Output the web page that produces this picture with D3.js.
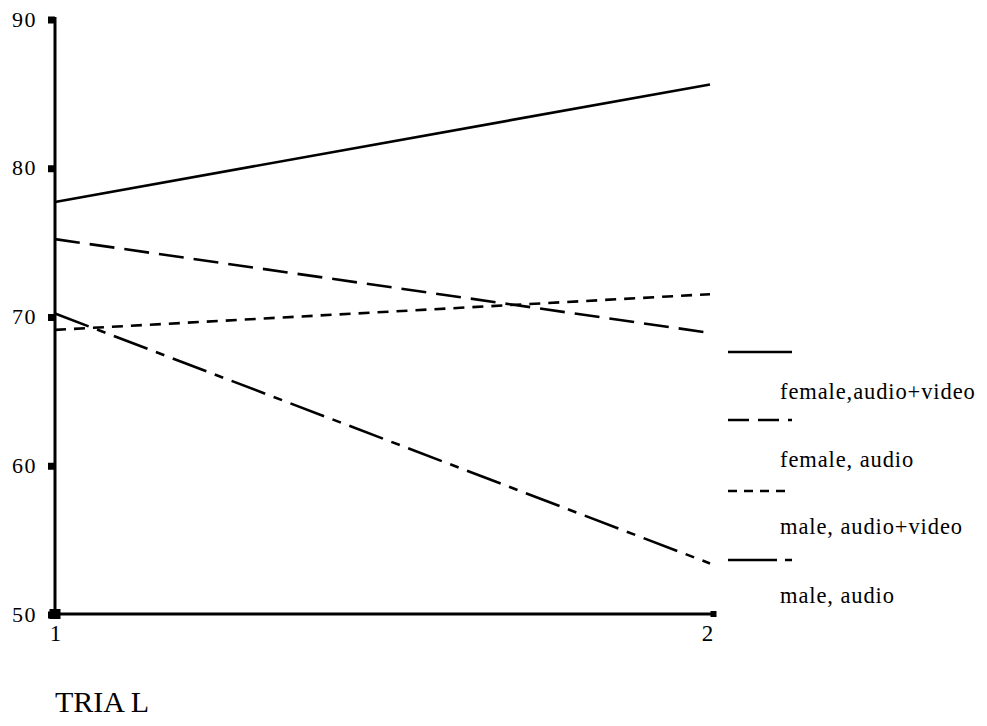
<!DOCTYPE html>
<html><head><meta charset="utf-8">
<script src="https://cdn.jsdelivr.net/npm/d3@7"></script>
<style>
html,body{margin:0;padding:0;background:#fff;}
text{font-family:"Liberation Serif","Times New Roman",serif;fill:#000;}
</style></head>
<body><svg id="chart" width="987" height="726"></svg>
<script>
const trials = [1, 2];
const yTicks = [50, 60, 70, 80, 90];
const seriesNames = ["female,audio+video", "female, audio", "male, audio+video", "male, audio"];
const femaleAV = [77.7, 85.6];
const femaleA = [75.2, 68.9];
const maleAV = [69.1, 71.5];
const maleA = [70.2, 53.4];
const seriesValues = [femaleAV, femaleA, maleAV, maleA];
const dashes = ["none", "25,10", "11,8", "36,9,9,9"];
const legendDashes = [null, "21,9", "9,7", "49,8,7,20"];

const svg = d3.select("#chart");
const x = d3.scaleLinear().domain([1, 2]).range([55, 710]);
const y = d3.scaleLinear().domain([50, 90]).range([614, 19]);

// y axis
const yAxis = svg.append("g").attr("transform", "translate(55,0)")
  .call(d3.axisLeft(y).tickValues(yTicks).tickSize(0).tickPadding(18).tickFormat(d3.format("d")));
yAxis.select(".domain").attr("stroke", "#000").attr("stroke-width", 3).attr("d", `M0,${y(90)-2}V${y(50)}`);
yAxis.selectAll(".tick text").style("font-size", "22px").style("letter-spacing", "1.5px").attr("dy", "0.32em");
yAxis.selectAll(".tick").append("rect").attr("x", -7).attr("y", -3).attr("width", 7).attr("height", 7).attr("fill", "#000");

// x axis
const xAxis = svg.append("g").attr("transform", `translate(0,${y(50)})`)
  .call(d3.axisBottom(x).tickValues(trials).tickSize(0).tickPadding(11).tickFormat(d3.format("d")));
xAxis.select(".domain").attr("stroke", "#000").attr("stroke-width", 3).attr("d", `M${x(1)},0H${x(2)+4}`);
xAxis.selectAll(".tick text").style("font-size", "23px").attr("dy", "0.71em")
  .attr("x", d => d === 2 ? -3 : 0);
xAxis.selectAll(".tick").append("rect")
  .attr("x", d => d === 1 ? -6 : 0).attr("y", d => d === 1 ? -5 : -3)
  .attr("width", d => d === 1 ? 11 : 6).attr("height", d => d === 1 ? 10 : 6).attr("fill", "#000");

svg.append("text").attr("x", 55).attr("y", 712).style("font-size", "30px").text("TRIA L");

// lines
const line = d3.line().x((d, i) => x(trials[i])).y(d => y(d));
seriesValues.forEach((vals, i) => {
  svg.append("path").datum(vals).attr("d", line).attr("fill", "none")
    .attr("stroke", "#000").attr("stroke-width", 2.6)
    .attr("stroke-dasharray", dashes[i]);
});

// legend
const legY = [352, 420, 491, 560];
const legTextY = [399, 467, 534, 603];
seriesNames.forEach((name, i) => {
  svg.append("line").attr("x1", 728).attr("x2", 792).attr("y1", legY[i]).attr("y2", legY[i])
    .attr("stroke", "#000").attr("stroke-width", 2.5).attr("stroke-dasharray", legendDashes[i]);
  svg.append("text").attr("x", 780).attr("y", legTextY[i])
    .style("font-size", "22.5px").style("letter-spacing", "0.9px").text(name);
});
</script></body></html>
